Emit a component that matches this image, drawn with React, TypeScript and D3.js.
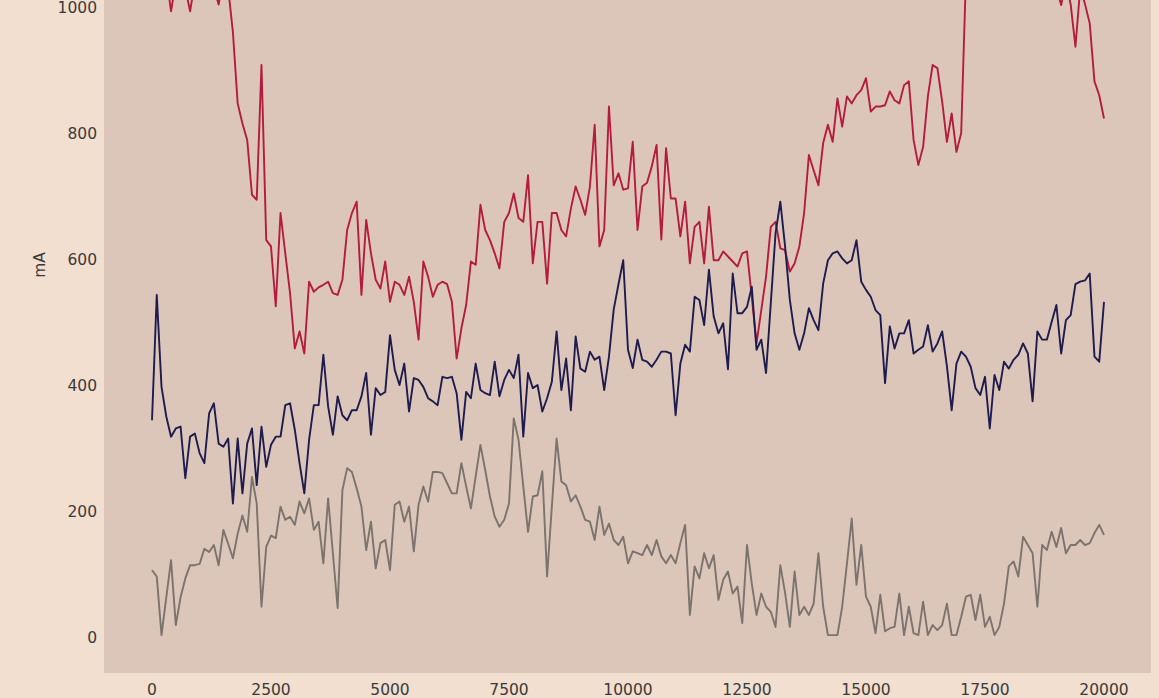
import React from "react";
import * as d3 from "d3";

// x positions: 0..20000 every 100
const xValues: number[] = d3.range(0, 20001, 100);

const redSeries: number[] = [
1040,1060,1030,1050,993,1040,1070,1030,993,1040,1080,1060,1050,1030,1004,1050,1030,960,847,815,
789,702,694,908,630,620,525,673,609,546,458,485,450,564,548,555,559,564,546,543,
567,646,673,691,543,662,609,567,553,596,532,564,559,543,572,532,472,596,572,540,
559,564,560,532,442,490,527,596,591,686,646,630,609,585,659,673,704,665,659,733,
593,659,659,561,673,673,646,636,680,715,694,670,715,813,620,646,842,717,736,710,
712,786,646,715,721,747,781,631,776,696,696,636,691,593,651,659,593,683,598,598,
612,604,596,588,609,612,540,466,519,572,651,659,617,614,580,593,620,673,765,741,
717,784,813,786,855,810,858,847,860,868,887,834,842,842,844,866,852,847,876,882,
789,749,778,858,908,903,850,786,831,770,800,1050,1080,1040,1070,1100,1060,1050,1090,1070,
1040,1060,1090,1050,1030,1070,1050,1080,1040,1060,1030,1003,1040,1004,937,1030,1005,974,882,860,
823
];

const navySeries: number[] = [
344,543,397,350,318,331,334,252,318,323,292,276,355,371,307,302,315,212,315,228,
307,331,241,334,270,305,318,318,368,371,329,276,228,313,368,368,448,366,321,382,
352,344,360,360,382,419,321,395,384,389,479,424,400,434,358,411,408,397,379,374,
368,413,411,413,387,313,389,379,434,392,387,384,437,382,408,424,411,448,318,419,
395,400,358,379,405,485,392,442,360,477,426,421,453,440,445,392,445,520,560,598,
456,427,472,440,437,429,440,453,453,450,352,434,464,453,540,535,495,583,509,482,
498,425,577,514,514,524,556,456,472,419,530,641,691,620,535,482,456,482,522,503,
487,561,598,609,612,601,593,598,630,564,551,540,519,511,403,493,458,482,482,503,
450,456,461,495,453,466,485,430,360,434,453,445,429,395,384,413,331,416,392,437,
426,440,448,466,450,374,485,472,472,500,527,450,503,511,560,564,566,577,445,437,
532
];

const graySeries: number[] = [
106,96,3,63,122,19,63,93,114,114,116,140,135,146,114,170,148,125,164,193,
167,254,212,48,143,161,157,207,186,191,178,215,196,220,170,183,117,220,133,46,
233,268,262,236,207,138,183,109,149,154,106,210,215,183,207,136,210,239,215,262,
262,260,244,228,228,276,239,204,255,305,265,223,191,175,186,212,347,313,239,167,
223,225,263,96,207,315,247,241,215,225,207,186,183,154,207,162,180,154,146,159,
117,136,133,130,146,130,154,128,117,130,117,149,178,35,112,93,133,109,130,59,
91,104,69,80,22,146,85,35,69,48,40,16,114,70,16,104,35,48,35,53,
133,48,3,3,3,48,117,188,83,146,64,48,6,67,9,14,16,69,3,48,
6,3,56,3,19,11,19,53,3,3,32,64,67,27,67,16,32,3,16,53,
112,120,96,159,146,133,48,146,138,167,143,173,133,146,146,154,146,149,165,178,
162
];

const xTicks: number[] = [0, 2500, 5000, 7500, 10000, 12500, 15000, 17500, 20000];
const yTicks: number[] = [0, 200, 400, 600, 800, 1000];
const yLabel = "mA";

const seriesList = [
  { name: "red", values: redSeries, color: "#b41b3e" },
  { name: "navy", values: navySeries, color: "#1e1b4e" },
  { name: "gray", values: graySeries, color: "#7b736e" },
];

const W = 1159;
const H = 698;

export default function App() {
  const x = d3.scaleLinear().domain([0, 20000]).range([152, 1104]);
  const y = d3.scaleLinear().domain([0, 1000]).range([637, 7]);
  const plotLeft = 104;
  const plotRight = 1151;
  const plotTop = -100;
  const plotBottom = 673;

  const line = (vals: number[]) =>
    d3
      .line<number>()
      .x((_, i) => x(xValues[i]))
      .y((v) => y(v))(vals) || "";

  const font = "'DejaVu Sans', sans-serif";

  return (
    <svg
      width={W}
      height={H}
      style={{ position: "absolute", left: 0, top: 0, display: "block" }}
    >
      <rect x={0} y={0} width={W} height={H} fill="#f2dfd0" />
      <rect
        x={plotLeft}
        y={plotTop}
        width={plotRight - plotLeft}
        height={plotBottom - plotTop}
        fill="#dcc6ba"
      />
      <defs>
        <clipPath id="plotclip">
          <rect x={plotLeft} y={plotTop} width={plotRight - plotLeft} height={plotBottom - plotTop} />
        </clipPath>
      </defs>
      <g clipPath="url(#plotclip)">
        {seriesList.map((s) => (
          <path
            key={s.name}
            d={line(s.values)}
            fill="none"
            stroke={s.color}
            strokeWidth={1.9}
            strokeLinejoin="round"
          />
        ))}
      </g>
      {xTicks.map((t) => (
        <text
          key={"x" + t}
          x={x(t)}
          y={695}
          textAnchor="middle"
          fontFamily={font}
          fontSize={15.5}
          fill="#3a3a3a"
        >
          {t}
        </text>
      ))}
      {yTicks.map((t) => (
        <text
          key={"y" + t}
          x={97}
          y={y(t)}
          dy="0.36em"
          textAnchor="end"
          fontFamily={font}
          fontSize={15.5}
          fill="#3a3a3a"
        >
          {t}
        </text>
      ))}
      <text
        x={45}
        y={265}
        transform="rotate(-90 45 265)"
        textAnchor="middle"
        fontFamily={font}
        fontSize={15.5}
        fill="#3a3a3a"
      >
        {yLabel}
      </text>
    </svg>
  );
}
